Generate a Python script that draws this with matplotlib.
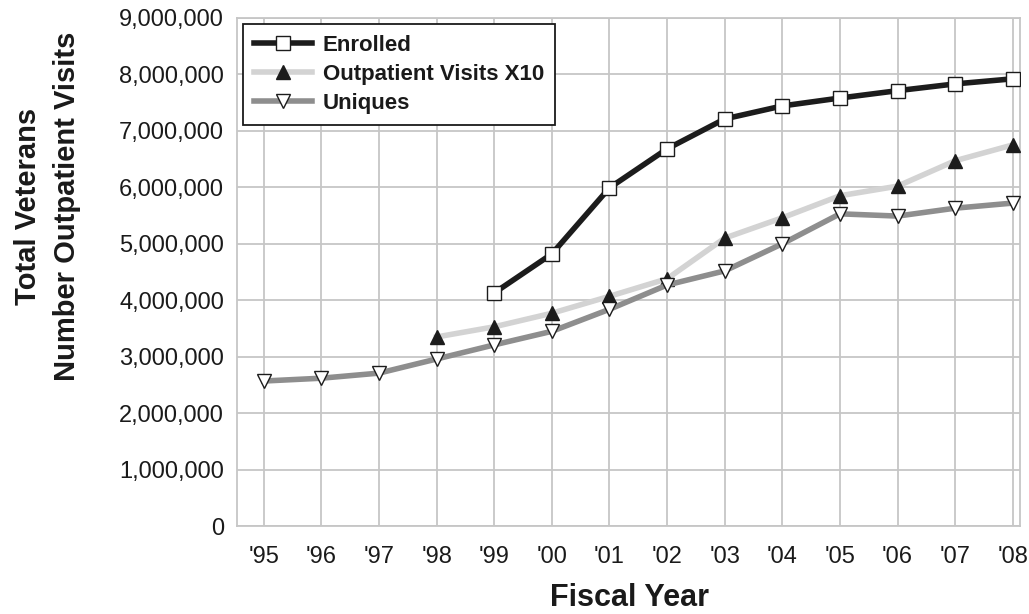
import matplotlib.pyplot as plt
import numpy as np

years = ["'95", "'96", "'97", "'98", "'99", "'00", "'01",
         "'02", "'03", "'04", "'05", "'06", "'07", "'08"]

# values (nan = no data for that year)
enrolled = [np.nan, np.nan, np.nan, np.nan, 4130000, 4820000, 5990000,
            6680000, 7210000, 7440000, 7580000, 7710000, 7830000, 7920000]
visits_x10 = [np.nan, np.nan, np.nan, 3350000, 3530000, 3770000, 4070000,
              4380000, 5100000, 5460000, 5850000, 6020000, 6470000, 6750000]
uniques = [2570000, 2620000, 2710000, 2960000, 3210000, 3450000, 3840000,
           4270000, 4520000, 5000000, 5530000, 5490000, 5630000, 5720000]

y_ticks = list(range(0, 9000001, 1000000))

plt.rcParams["font.family"] = ["Liberation Sans", "DejaVu Sans"]

fig = plt.figure(figsize=(10.29, 6.14), dpi=100)
ax = fig.add_axes([0.230, 0.143, 0.761, 0.828])

x = np.arange(len(years))

ax.plot(x, enrolled, color="#1c1c1c", lw=4.0, marker="s", ms=10,
        mfc="white", mec="#1c1c1c", mew=1.0, label="Enrolled", zorder=5)
ax.plot(x, visits_x10, color="#d3d3d3", lw=4.0, marker="^", ms=10,
        mfc="#1c1c1c", mec="#1c1c1c", mew=1.0, label="Outpatient Visits X10",
        zorder=3)
ax.plot(x, uniques, color="#8e8e8e", lw=4.0, marker="v", ms=10,
        mfc="white", mec="#1c1c1c", mew=1.0, label="Uniques", zorder=4)

ax.set_xlim(-0.47, 13.12)
ax.set_ylim(0, 9000000)
ax.set_xticks(x)
ax.set_xticklabels(years)
ax.set_yticks(y_ticks)
ax.set_yticklabels([f"{v:,}" for v in y_ticks])
ax.tick_params(axis="both", length=0, labelsize=17, colors="#1a1a1a")
ax.tick_params(axis="y", pad=9)
ax.tick_params(axis="x", pad=14)

ax.grid(True, color="#c6c6c6", lw=1.3)
ax.set_axisbelow(True)
for s in ax.spines.values():
    s.set_color("#c6c6c6")
    s.set_linewidth(1.3)

leg = ax.legend(loc="upper left", bbox_to_anchor=(0.008, 0.988),
                borderaxespad=0, fancybox=False, framealpha=1,
                edgecolor="#1a1a1a", handlelength=2.6, handletextpad=0.5,
                labelspacing=0.35, borderpad=0.5,
                prop={"weight": "bold", "size": 16})
leg.get_frame().set_linewidth(1.3)
for t in leg.get_texts():
    t.set_color("#1a1a1a")

fig.text(0.046, 0.664, "Total Veterans\nNumber Outpatient Visits",
         rotation=90, ha="center", va="center", multialignment="center",
         fontsize=21, fontweight="bold", color="#1a1a1a", linespacing=1.5)
fig.text(0.612, 0.026, "Fiscal Year", ha="center", va="center",
         fontsize=22, fontweight="bold", color="#1a1a1a")

fig.savefig("out.png", dpi=100)
